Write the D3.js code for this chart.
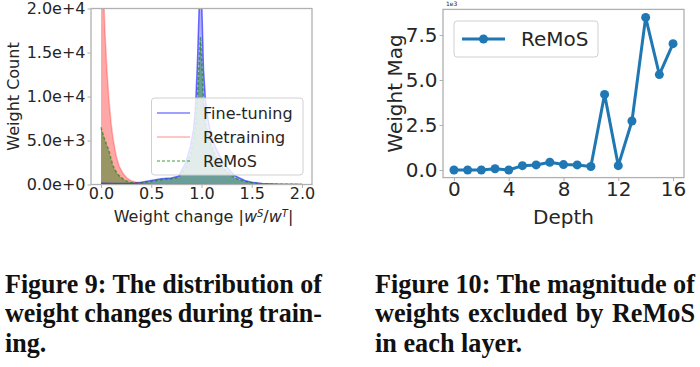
<!DOCTYPE html>
<html><head><meta charset="utf-8">
<script src="https://cdn.jsdelivr.net/npm/d3@7"></script>
<style>
html,body{margin:0;padding:0;background:#fff;}
svg{display:block;}
</style></head>
<body>
<svg id="c" width="700" height="367"></svg>
<script>
// ---------- Figure 9 data (weight-change histograms) ----------
const ftX = [0, 0.1, 0.2, 0.3, 0.4, 0.5, 0.6, 0.7, 0.77, 0.84, 0.89, 0.92, 0.935, 0.945, 0.96, 0.975, 0.99, 1.005, 1.02, 1.04, 1.055, 1.085, 1.135, 1.22, 1.33, 1.43, 1.5, 1.6, 1.8, 2.0];
const ftCount = [150, 120, 100, 120, 250, 450, 650, 750, 950, 2400, 4300, 6200, 8100, 10000, 14000, 19500, 25000, 19500, 13000, 9500, 8000, 6200, 4300, 2400, 1000, 450, 250, 120, 40, 10];
const rtX = [0, 0.02, 0.04, 0.06, 0.08, 0.1, 0.12, 0.15, 0.18, 0.22, 0.26, 0.3, 0.35, 0.4, 0.45, 0.5, 0.6, 0.7, 0.8, 1.0, 1.2, 1.5, 2.0];
const rtCount = [32000, 23500, 17200, 12800, 9500, 7000, 5200, 3300, 2100, 1250, 720, 430, 250, 150, 100, 70, 40, 25, 20, 15, 10, 5, 2];
const remX = [0, 0.02, 0.04, 0.06, 0.08, 0.1, 0.12, 0.15, 0.18, 0.22, 0.26, 0.3, 0.35, 0.4, 0.5, 0.6, 0.7, 0.77, 0.84, 0.89, 0.92, 0.94, 0.96, 0.975, 0.99, 1.005, 1.02, 1.04, 1.06, 1.09, 1.14, 1.22, 1.33, 1.43, 1.5, 1.6, 1.8, 2.0];
const remCount = [6500, 5700, 5000, 4400, 3800, 2900, 2100, 1450, 1000, 620, 380, 220, 150, 180, 350, 550, 650, 800, 1900, 3400, 4900, 6800, 10000, 13500, 16800, 13500, 9500, 7000, 5800, 4600, 3200, 1800, 750, 350, 200, 90, 30, 8];
const seriesNames = ["Fine-tuning", "Retraining", "ReMoS"];
const xTicksL = [0, 0.5, 1.0, 1.5, 2.0];
const yTicksL = [0, 5000, 10000, 15000, 20000];

// ---------- Figure 10 data (excluded weight magnitude per layer, x1e3) ----------
const depth = [0, 1, 2, 3, 4, 5, 6, 7, 8, 9, 10, 11, 12, 13, 14, 15, 16];
const weightMag = [0.0, 0.0, 0.0, 0.07, 0.0, 0.24, 0.28, 0.43, 0.30, 0.28, 0.19, 4.2, 0.24, 2.72, 8.48, 5.3, 7.02];
const xTicksR = [0, 4, 8, 12, 16];
const yTicksR = [0, 2.5, 5.0, 7.5];

const caption9 = ["Figure 9: The distribution of", "weight changes during train-", "ing."];
const caption10 = ["Figure 10: The magnitude of", "weights excluded by ReMoS", "in each layer."];

const svg = d3.select("#c");
const FONT = "DejaVu Sans, sans-serif";
const TXT = "#262626";
const SPINE = "#b0b0b0";

// ================= LEFT CHART =================
const L = {x0: 91, x1: 312, y0: 8.5, y1: 184.5};
const xL = d3.scaleLinear().domain([-0.1, 2.1]).range([L.x0, L.x1]);
const yL = d3.scaleLinear().domain([0, 20000]).range([L.y1, L.y0]);

svg.append("defs").append("clipPath").attr("id", "clipL")
  .append("rect").attr("x", L.x0).attr("y", L.y0).attr("width", L.x1 - L.x0).attr("height", L.y1 - L.y0);

const gL = svg.append("g");
const plotL = gL.append("g").attr("clip-path", "url(#clipL)");

function pts(xs, ys) { return xs.map((x, i) => [x, ys[i]]); }
const area = d3.area().x(d => xL(d[0])).y0(yL(0)).y1(d => yL(d[1]));
const line = d3.line().x(d => xL(d[0])).y(d => yL(d[1]));

const series = [
  {name: seriesNames[0], data: pts(ftX, ftCount), fill: "#0000ff", fo: 0.3, stroke: "#0000ff", so: 0.55, dash: null},
  {name: seriesNames[1], data: pts(rtX, rtCount), fill: "#ff0000", fo: 0.35, stroke: "#ff0000", so: 0.25, dash: null},
  {name: seriesNames[2], data: pts(remX, remCount), fill: "#008000", fo: 0.4, stroke: "#008000", so: 0.55, dash: "3,2"}
];
series.forEach(s => {
  plotL.append("path").attr("d", area(s.data)).attr("fill", s.fill).attr("fill-opacity", s.fo);
});
series.forEach(s => {
  plotL.append("path").attr("d", line(s.data)).attr("fill", "none").attr("stroke", s.stroke)
    .attr("stroke-opacity", s.so).attr("stroke-width", 1.5).attr("stroke-dasharray", s.dash);
});

// axes left
const axBL = d3.axisBottom(xL).tickValues(xTicksL).tickFormat(d3.format(".1f")).tickSize(3.5).tickPadding(0);
const gxL = gL.append("g").attr("transform", `translate(0,${L.y1})`).call(axBL);
const axLL = d3.axisLeft(yL).tickValues(yTicksL).tickFormat(d3.format(".1e")).tickSize(3.5).tickPadding(2);
const gyL = gL.append("g").attr("transform", `translate(${L.x0},0)`).call(axLL);
[gxL, gyL].forEach(g => {
  g.select(".domain").remove();
  g.selectAll(".tick line").attr("stroke", SPINE);
  g.selectAll(".tick text").attr("fill", TXT).style("font-family", FONT).style("font-size", "16px");
});
gL.append("rect").attr("x", L.x0).attr("y", L.y0).attr("width", L.x1 - L.x0).attr("height", L.y1 - L.y0)
  .attr("fill", "none").attr("stroke", SPINE).attr("stroke-width", 1.3);

// axis labels left
const xlab = gL.append("text").attr("x", (L.x0 + L.x1) / 2 + 2).attr("y", 222).attr("text-anchor", "middle")
  .attr("fill", TXT).style("font-family", FONT).style("font-size", "16px");
xlab.append("tspan").text("Weight change |");
xlab.append("tspan").attr("font-style", "italic").text("w");
xlab.append("tspan").attr("font-style", "italic").attr("font-size", "10px").attr("dy", -5).text("S");
xlab.append("tspan").attr("dy", 5).text("/");
xlab.append("tspan").attr("font-style", "italic").text("w");
xlab.append("tspan").attr("font-style", "italic").attr("font-size", "10px").attr("dy", -5).text("T");
xlab.append("tspan").attr("dy", 5).text("|");
gL.append("text").attr("transform", `translate(19,${(L.y0 + L.y1) / 2}) rotate(-90)`).attr("text-anchor", "middle")
  .attr("fill", TXT).style("font-family", FONT).style("font-size", "16px").text("Weight Count");

// legend left
const lgL = gL.append("g");
lgL.append("rect").attr("x", 151.5).attr("y", 98).attr("width", 151.5).attr("height", 77).attr("rx", 3)
  .attr("fill", "#fff").attr("fill-opacity", 0.8).attr("stroke", "#d0d0d0").attr("stroke-width", 1);
series.forEach((s, i) => {
  const yy = 113 + i * 24;
  lgL.append("line").attr("x1", 157).attr("x2", 190).attr("y1", yy).attr("y2", yy)
    .attr("stroke", s.stroke).attr("stroke-opacity", i === 1 ? 0.3 : 0.5).attr("stroke-width", 1.5).attr("stroke-dasharray", s.dash);
  lgL.append("text").attr("x", 203).attr("y", yy).attr("dy", "0.36em").attr("fill", TXT)
    .style("font-family", FONT).style("font-size", "16px").text(s.name);
});

// ================= RIGHT CHART =================
const R = {x0: 443, x1: 684, y0: 9.4, y1: 177.6};
const xR = d3.scaleLinear().domain([-0.8, 16.8]).range([R.x0, R.x1]);
const yR = d3.scaleLinear().domain([-0.425, 8.925]).range([R.y1, R.y0]);
const gR = svg.append("g");

const axBR = d3.axisBottom(xR).tickValues(xTicksR).tickFormat(d3.format("d")).tickSize(3.5).tickPadding(0.5);
const gxR = gR.append("g").attr("transform", `translate(0,${R.y1})`).call(axBR);
const axLR = d3.axisLeft(yR).tickValues(yTicksR).tickFormat(d3.format(".1f")).tickSize(3.5).tickPadding(2);
const gyR = gR.append("g").attr("transform", `translate(${R.x0},0)`).call(axLR);
[gxR, gyR].forEach(g => {
  g.select(".domain").remove();
  g.selectAll(".tick line").attr("stroke", SPINE);
  g.selectAll(".tick text").attr("fill", TXT).style("font-family", FONT).style("font-size", "20px");
});
gR.append("rect").attr("x", R.x0).attr("y", R.y0).attr("width", R.x1 - R.x0).attr("height", R.y1 - R.y0)
  .attr("fill", "none").attr("stroke", SPINE).attr("stroke-width", 1.3);
gR.append("text").attr("x", R.x0 + 3).attr("y", 6).attr("fill", TXT).style("font-family", FONT).style("font-size", "6px").text("1e3");

const lineR = d3.line().x((d, i) => xR(depth[i])).y(d => yR(d));
gR.append("path").attr("d", lineR(weightMag)).attr("fill", "none").attr("stroke", "#1f77b4").attr("stroke-width", 3).attr("stroke-linejoin", "round");
gR.selectAll("circle.pt").data(weightMag).join("circle").attr("class", "pt")
  .attr("cx", (d, i) => xR(depth[i])).attr("cy", d => yR(d)).attr("r", 4.5).attr("fill", "#1f77b4");

gR.append("text").attr("x", (R.x0 + R.x1) / 2).attr("y", 224).attr("text-anchor", "middle")
  .attr("fill", TXT).style("font-family", FONT).style("font-size", "20px").text("Depth");
gR.append("text").attr("transform", `translate(402,${(R.y0 + R.y1) / 2}) rotate(-90)`).attr("text-anchor", "middle")
  .attr("fill", TXT).style("font-family", FONT).style("font-size", "20px").text("Weight Mag");

const lgR = gR.append("g");
lgR.append("rect").attr("x", 454).attr("y", 21).attr("width", 144).attr("height", 36).attr("rx", 3)
  .attr("fill", "#fff").attr("fill-opacity", 0.8).attr("stroke", "#d0d0d0").attr("stroke-width", 1);
lgR.append("line").attr("x1", 462).attr("x2", 505).attr("y1", 39).attr("y2", 39).attr("stroke", "#1f77b4").attr("stroke-width", 3);
lgR.append("circle").attr("cx", 483.5).attr("cy", 39).attr("r", 4.5).attr("fill", "#1f77b4");
lgR.append("text").attr("x", 521).attr("y", 39).attr("dy", "0.36em").attr("fill", TXT)
  .style("font-family", FONT).style("font-size", "20px").text("ReMoS");

// ================= CAPTIONS =================
function caption(lines, x0, width, baselines) {
  const g = svg.append("g");
  const fs = 27;
  const meas = g.append("text").style("font-family", "Liberation Serif, Times New Roman, serif")
    .style("font-weight", "bold").style("font-size", fs + "px").text(lines[0]);
  const w0 = meas.node().getComputedTextLength();
  meas.remove();
  const sx = width / w0;
  lines.forEach((t, i) => {
    const tg = g.append("g").attr("transform", `translate(${x0},${baselines[i]}) scale(${sx},1)`);
    const tx = tg.append("text").attr("x", 0).attr("y", 0).attr("fill", "#111")
      .style("font-family", "Liberation Serif, Times New Roman, serif").style("font-weight", "bold")
      .style("font-size", fs + "px").text(t);
    if (i < lines.length - 1) {
      const w = tx.node().getComputedTextLength();
      const nsp = (t.match(/ /g) || []).length;
      if (nsp > 0) tx.attr("word-spacing", ((width / sx) - w) / nsp);
    }
  });
}
caption(caption9, 5, 317, [293, 322, 352]);
caption(caption10, 375, 320, [293, 322, 352]);
</script>
</body></html>
